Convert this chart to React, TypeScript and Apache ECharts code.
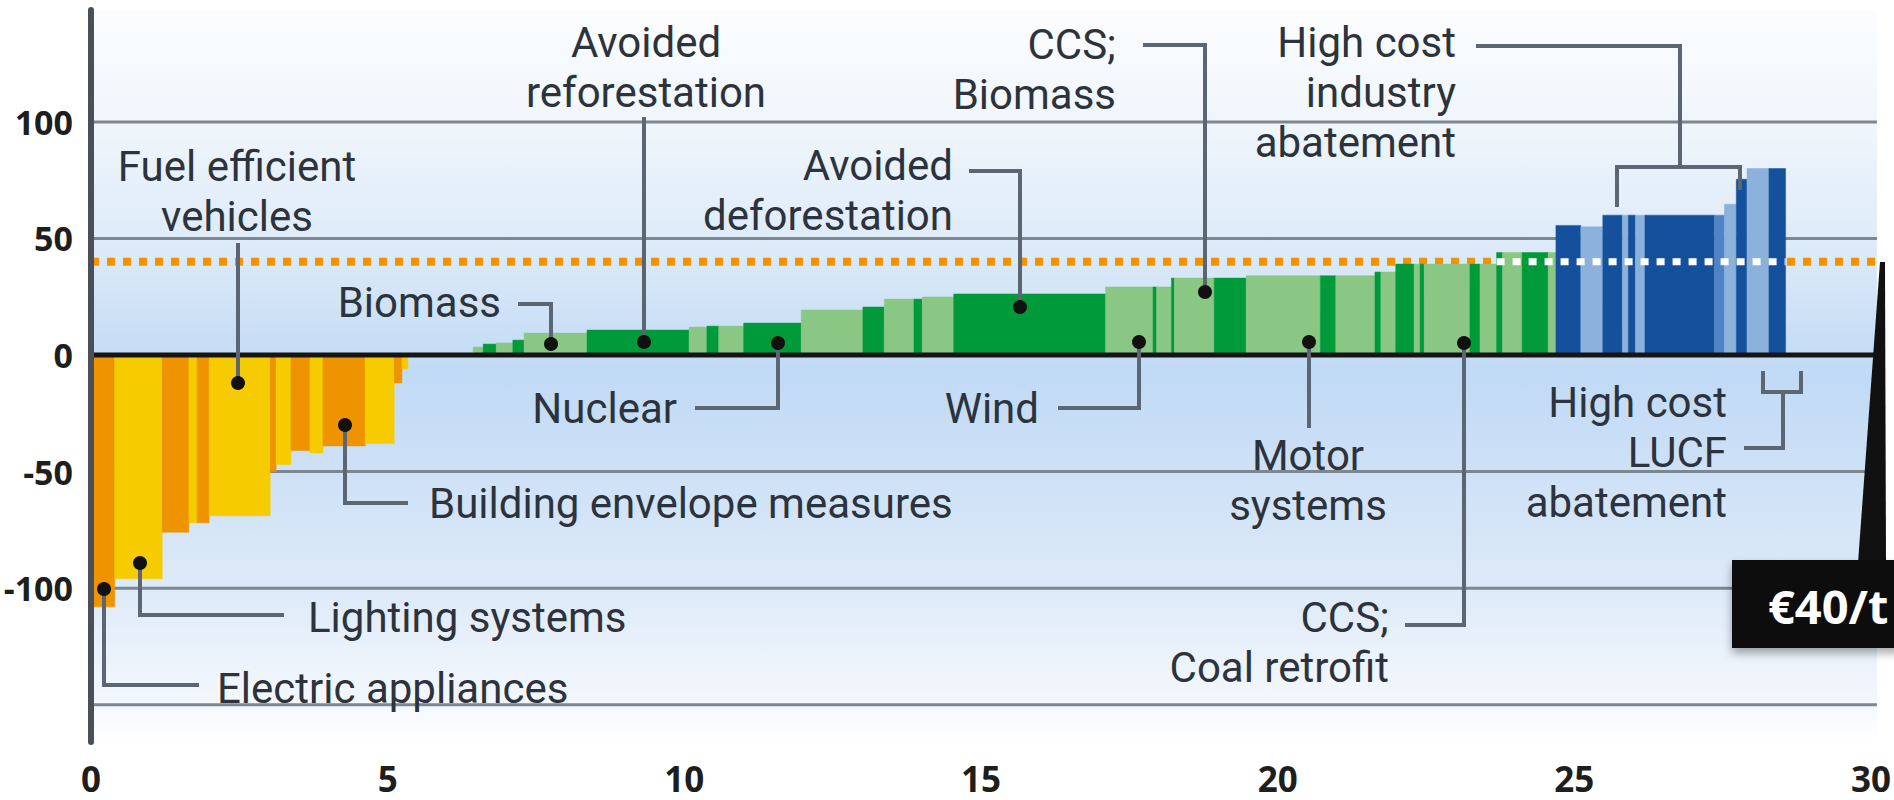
import React, { useEffect, useRef } from "react";
import * as echarts from "echarts";

const FONT = "'Open Sans', 'Noto Sans', 'DejaVu Sans', sans-serif";
const NOTE_FONT = "Roboto, 'Open Sans', sans-serif";

// Abatement measures, cheapest first: width in GtCO2e, cost in €/tCO2e, colour group
const measureWidths = [
  0.4, 0.8, 0.45, 0.14, 0.2, 1.03, 0.1, 0.25, 0.32, 0.22, 0.71, 0.49, 0.13, 0.1,
  1.1,
  0.17, 0.22, 0.28, 0.19, 1.06, 1.72, 0.3, 0.2, 0.42, 0.97, 1.04, 0.36, 0.5, 0.14,
  0.53, 2.56, 0.8, 0.06, 0.25, 0.05, 0.67, 0.54, 1.25, 0.26, 0.66, 0.1, 0.25, 0.31,
  0.1, 0.07, 0.77, 0.17, 0.28, 0.1, 0.33, 0.44, 0.13,
  0.42, 0.37, 0.33, 0.1, 0.12, 0.16, 1.17, 0.17, 0.2, 0.18, 0.37, 0.28,
];
const measureCosts = [
  -108, -96, -76, -72, -72, -69, -50, -47, -41, -42, -39, -38, -12, -6,
  0,
  3.4, 4.7, 5.2, 6.4, 9.4, 10.7, 12, 12.4, 12.4, 13.7, 19.3, 20.6, 24, 24,
  24.9, 26.2, 29.2, 29.2, 29.2, 33, 33, 33, 34, 34, 34, 35.6, 35.6, 39,
  39, 39, 39, 39, 39, 44, 44, 44, 44,
  55.6, 55, 60, 60, 60, 60, 60, 60, 64.7, 75.4, 80, 80,
];
const measureGroups = [
  "amber", "gold", "amber", "gold", "amber", "gold", "amber", "gold", "amber", "gold", "amber", "gold", "amber", "gold",
  "gold",
  "sage", "forest", "sage", "forest", "sage", "forest", "sage", "forest", "sage", "forest", "sage", "forest", "sage", "forest",
  "sage", "forest", "sage", "forest", "sage", "forest", "sage", "forest", "sage", "forest", "sage", "forest", "sage", "forest",
  "sage", "forest", "sage", "forest", "sage", "forest", "sage", "forest", "sage",
  "navy", "sky", "navy", "sky", "navy", "sky", "navy", "steel", "sky", "navy", "sky", "navy",
];

const groupColors: Record<string, string> = {
  amber: "#ef9300",
  gold: "#f6cb00",
  forest: "#009a3b",
  sage: "#8ac684",
  navy: "#15509d",
  sky: "#8cb2dc",
  steel: "#5083c3",
};

const carbonPrice = 40;
const priceLabel = "€40/t";
const gridValues = [100, 50, -50, -100, -150];
const yTickLabels = [-100, -50, 0, 50, 100];
const xTickLabels = [0, 5, 10, 15, 20, 25, 30];
const X_MAX = 30.1;

const INK = "#2d333c";
const LEADER = "#5b6672";

function buildSegments() {
  let start = 0;
  return measureWidths.map((w, i) => {
    const row = [start, start + w, measureCosts[i], i];
    start += w;
    return row;
  });
}

function text(t: string, x: number, y: number, align: string) {
  return {
    type: "text",
    x,
    y,
    z: 60,
    silent: true,
    style: {
      text: t,
      fontSize: 42,
      lineHeight: 42,
      fontFamily: NOTE_FONT,
      fill: INK,
      align,
      verticalAlign: "middle",
    },
  };
}
function leader(points: number[][]) {
  return {
    type: "polyline",
    z: 55,
    silent: true,
    shape: { points },
    style: { stroke: LEADER, lineWidth: 4, fill: null },
  };
}
function dot(x: number, y: number) {
  return { type: "circle", z: 58, silent: true, shape: { cx: x, cy: y, r: 7 }, style: { fill: "#111111" } };
}

function hLine(name: string, y: number, x0: number, x1: number, lineStyle: any, z: number) {
  return {
    name,
    type: "line",
    data: [
      [x0, y],
      [x1, y],
    ],
    showSymbol: false,
    symbol: "none",
    silent: true,
    z,
    lineStyle,
  };
}

export default function App() {
  const ref = useRef<HTMLDivElement>(null);

  useEffect(() => {
    if (!ref.current) return;
    const chart = echarts.init(ref.current, undefined, { renderer: "svg" });
    const segments = buildSegments();

    // stretch at the expensive end where every measure costs more than the carbon price
    let firstAbove = segments.length - 1;
    while (firstAbove > 0 && measureCosts[firstAbove - 1] > carbonPrice) firstAbove--;
    const aboveStart = segments[firstAbove][0] as number;
    const aboveEnd = segments[segments.length - 1][1] as number;

    const series: any[] = [];
    gridValues.forEach((v) =>
      series.push(hLine("grid" + v, v, 0, X_MAX, { color: "#7d8792", width: 3 }, 1))
    );
    series.push(
      hLine("price", carbonPrice, 0, X_MAX, { color: "#f39200", width: 8, type: [8, 8], cap: "butt" }, 2)
    );
    series.push({
      name: "measures",
      type: "custom",
      z: 3,
      silent: true,
      data: segments,
      encode: { x: [0, 1], y: 2 },
      renderItem: (params: any, api: any) => {
        const x0 = api.value(0);
        const x1 = api.value(1);
        const v = api.value(2);
        const idx = api.value(3);
        const top = api.coord([x0, Math.max(v, 0)]);
        const bottom = api.coord([x1, Math.min(v, 0)]);
        const color = groupColors[measureGroups[idx]];
        return {
          type: "rect",
          shape: { x: top[0], y: top[1], width: bottom[0] - top[0], height: bottom[1] - top[1] },
          style: { fill: color, stroke: color, lineWidth: 0.5 },
        };
      },
    });
    series.push(
      hLine("priceOver", carbonPrice, aboveStart, aboveEnd, { color: "#ffffff", width: 7, type: [8, 8], cap: "butt" }, 4)
    );
    series.push(hLine("zero", 0, 0, X_MAX, { color: "#151515", width: 5 }, 5));

    const graphic: any[] = [
      // Fuel efficient vehicles
      text("Fuel efficient", 237, 166, "center"),
      text("vehicles", 237, 216, "center"),
      leader([[238, 243], [238, 383]]),
      dot(238, 383),
      // Building envelope measures
      text("Building envelope measures", 429, 503, "left"),
      leader([[345, 425], [345, 503], [408, 503]]),
      dot(345, 425),
      // Lighting systems
      text("Lighting systems", 308, 617, "left"),
      leader([[140, 563], [140, 615], [284, 615]]),
      dot(140, 563),
      // Electric appliances
      text("Electric appliances", 217, 688, "left"),
      leader([[104, 589], [104, 685], [199, 685]]),
      dot(104, 589),
      // Biomass
      text("Biomass", 501, 302, "right"),
      leader([[518, 304], [551, 304], [551, 344]]),
      dot(551, 344),
      // Avoided reforestation
      text("Avoided", 646, 42, "center"),
      text("reforestation", 646, 92, "center"),
      leader([[644, 117], [644, 342]]),
      dot(644, 342),
      // Avoided deforestation
      text("Avoided", 953, 165, "right"),
      text("deforestation", 953, 215, "right"),
      leader([[969, 171], [1020, 171], [1020, 307]]),
      dot(1020, 307),
      // CCS; Biomass
      text("CCS;", 1116, 44, "right"),
      text("Biomass", 1116, 94, "right"),
      leader([[1143, 45], [1205, 45], [1205, 292]]),
      dot(1205, 292),
      // High cost industry abatement
      text("High cost", 1456, 42, "right"),
      text("industry", 1456, 92, "right"),
      text("abatement", 1456, 142, "right"),
      leader([[1476, 46], [1680, 46], [1680, 167]]),
      leader([[1617, 207], [1617, 167], [1740, 167], [1740, 190]]),
      // Nuclear
      text("Nuclear", 677, 408, "right"),
      leader([[695, 408], [778, 408], [778, 343]]),
      dot(778, 343),
      // Wind
      text("Wind", 1039, 408, "right"),
      leader([[1058, 408], [1139, 408], [1139, 342]]),
      dot(1139, 342),
      // Motor systems
      text("Motor", 1308, 455, "center"),
      text("systems", 1308, 505, "center"),
      leader([[1309, 342], [1309, 428]]),
      dot(1309, 342),
      // CCS; Coal retrofit
      text("CCS;", 1389, 617, "right"),
      text("Coal retrofit", 1389, 667, "right"),
      leader([[1464, 343], [1464, 625], [1405, 625]]),
      dot(1464, 343),
      // High cost LUCF abatement
      text("High cost", 1727, 402, "right"),
      text("LUCF", 1727, 452, "right"),
      text("abatement", 1727, 502, "right"),
      leader([[1744, 448], [1783, 448], [1783, 392]]),
      leader([[1763, 371], [1763, 392], [1801, 392], [1801, 371]]),
      // carbon price callout
      {
        type: "polygon",
        z: 70,
        silent: true,
        shape: { points: [[1880, 262], [1885, 262], [1886, 563], [1858, 563]] },
        style: { fill: "#111111" },
      },
      {
        type: "rect",
        z: 70,
        silent: true,
        shape: { x: 1732, y: 560, width: 170, height: 88 },
        style: {
          fill: "#111111",
          shadowBlur: 10,
          shadowColor: "rgba(0,0,0,0.35)",
          shadowOffsetY: 5,
        },
      },
      {
        type: "text",
        z: 71,
        silent: true,
        x: 1768,
        y: 606,
        style: {
          text: priceLabel,
          fontSize: 47,
          fontWeight: "bold",
          fontFamily: FONT,
          fill: "#ffffff",
          align: "left",
          verticalAlign: "middle",
        },
      },
    ];

    chart.setOption({
      animation: false,
      grid: {
        left: 91,
        right: 0,
        top: 10,
        bottom: 58,
        show: true,
        borderWidth: 0,
        backgroundColor: new echarts.graphic.LinearGradient(0, 0, 0, 1, [
          { offset: 0, color: "#fcfdff" },
          { offset: 0.15, color: "#f0f6fc" },
          { offset: 0.33, color: "#dceaf8" },
          { offset: 0.471, color: "#c4dcf5" },
          { offset: 0.5, color: "#c1daf5" },
          { offset: 0.78, color: "#dce9f8" },
          { offset: 0.95, color: "#f4f8fd" },
          { offset: 1, color: "#ffffff" },
        ]),
      },
      xAxis: {
        type: "value",
        min: 0,
        max: X_MAX,
        interval: 5,
        axisLine: { show: false },
        axisTick: { show: false },
        splitLine: { show: false },
        axisLabel: {
          customValues: xTickLabels,
          formatter: (v: number) => (xTickLabels.indexOf(v) >= 0 ? String(v) : ""),
          fontSize: 35,
          fontWeight: "bold",
          fontFamily: FONT,
          color: "#1e1e1e",
          margin: 18,
          lineHeight: 36,
          alignMinLabel: "center",
          alignMaxLabel: "center",
        },
      },
      yAxis: {
        type: "value",
        min: -166,
        max: 148,
        z: 10,
        axisLine: { show: true, lineStyle: { color: "#4a4f58", width: 6 } },
        axisTick: { show: false },
        splitLine: { show: false },
        axisLabel: {
          customValues: yTickLabels,
          formatter: (v: number) => (yTickLabels.indexOf(v) >= 0 ? String(v) : ""),
          fontSize: 34,
          fontWeight: "bold",
          fontFamily: FONT,
          color: "#1e1e1e",
          margin: 18,
        },
      },
      series,
      graphic,
    });

    return () => chart.dispose();
  }, []);

  return (
    <div
      ref={ref}
      style={{ position: "fixed", left: 0, top: 0, width: 1894, height: 800, background: "#ffffff" }}
    />
  );
}
